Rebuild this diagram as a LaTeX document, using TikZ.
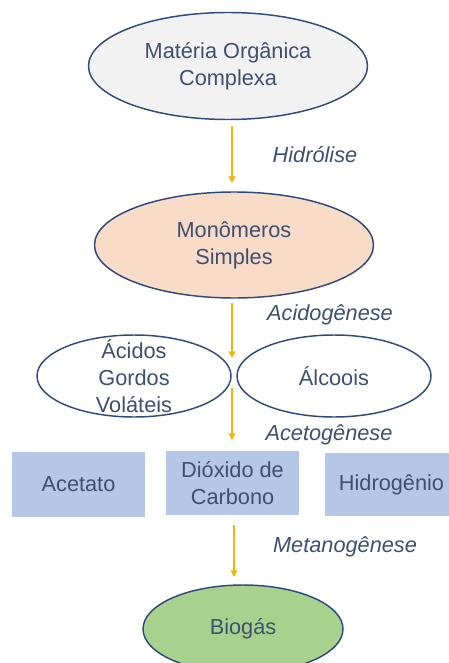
\documentclass[tikz,border=0pt]{standalone}
\usepackage{fontspec}
\setmainfont{Liberation Sans}
\usetikzlibrary{shapes.geometric,arrows.meta}
\definecolor{txtc}{HTML}{3E5072}
\definecolor{edgec}{HTML}{2F4A7E}
\definecolor{arrc}{HTML}{F2B705}
\definecolor{grayf}{HTML}{F2F2F2}
\definecolor{peachf}{HTML}{F8DCC8}
\definecolor{bluef}{HTML}{B4C7E7}
\definecolor{greenf}{HTML}{A9D18E}
\begin{document}
\begin{tikzpicture}[x=0.75pt,y=-0.75pt,
  oval/.style={ellipse, draw=edgec, line width=1.1pt, inner sep=0pt},
  boxc/.style={rectangle, fill=bluef, inner sep=0pt},
  txt/.style={text=txtc, align=center, font=\fontsize{16.3}{20.2}\selectfont},
  lab/.style={text=txtc, font=\fontsize{16.3}{20.2}\selectfont\itshape},
  flow/.style={draw=arrc, line width=1.1pt, -{Triangle[length=5pt,width=5pt]}}]
\clip (0,0) rectangle (449,663);
\fill[white] (0,0) rectangle (449,663);
% shapes
\node[oval, fill=grayf, minimum width=209.25pt, minimum height=80.25pt] (mo) at (228,66) {};
\node[txt] at (mo) {Matéria Orgânica\\Complexa};
\node[oval, fill=peachf, minimum width=209.25pt, minimum height=79.5pt] (ms) at (234,245) {};
\node[txt] at (ms) {Monômeros\\Simples};
\node[oval, fill=white, minimum width=145.5pt, minimum height=61.5pt] (agv) at (134,376) {};
\node[txt] at (agv) {Ácidos\\Gordos\\Voláteis};
\node[oval, fill=white, minimum width=145.5pt, minimum height=61.5pt] (alc) at (334,376) {};
\node[txt] at (alc) {Álcoois};
\node[boxc, minimum width=99.75pt, minimum height=48.75pt] (ace) at (78.5,484.5) {};
\node[txt] at (ace) {Acetato};
\node[boxc, minimum width=99.75pt, minimum height=48pt] (dio) at (232.5,483) {};
\node[txt] at (dio) {Dióxido de\\Carbono};
\node[boxc, minimum width=99.75pt, minimum height=47.25pt] (hid) at (391.5,484.5) {};
\node[txt] at (hid) {Hidrogênio};
\node[oval, fill=greenf, minimum width=150pt, minimum height=66pt] (bio) at (243,629) {};
\node[txt] at (bio) {Biogás};
% arrow end points
\coordinate (a1s) at (232,126); \coordinate (a1e) at (232,183);
\coordinate (a2s) at (232,303); \coordinate (a2e) at (232,358);
\coordinate (a3s) at (232,388); \coordinate (a3e) at (232,440);
\coordinate (a4s) at (234,525); \coordinate (a4e) at (234,577);
\draw[flow] (a1s) -- (a1e);
\draw[flow] (a2s) -- (a2e);
\draw[flow] (a3s) -- (a3e);
\draw[flow] (a4s) -- (a4e);
% labels
\node[lab] (l1) at (315,155) {Hidrólise};
\node[lab] (l2) at (330,315) {Acidogênese};
\node[lab] (l3) at (329,435) {Acetogênese};
\node[lab] (l4) at (345,547) {Metanogênese};
\end{tikzpicture}
\end{document}
